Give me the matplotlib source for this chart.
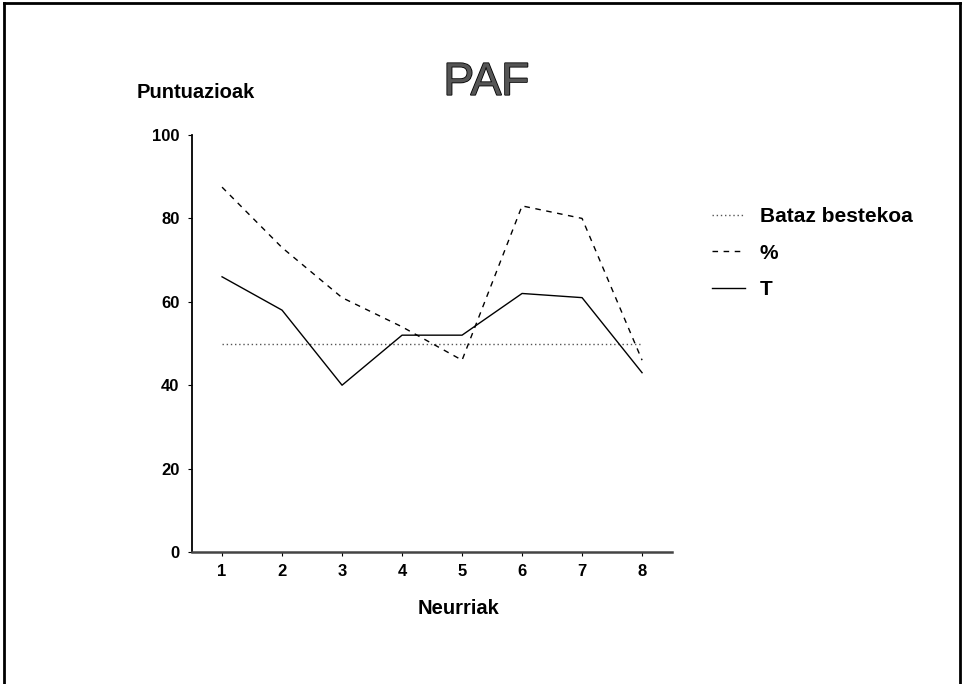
import matplotlib.pyplot as plt
import matplotlib.patheffects as pe
from matplotlib.lines import Line2D

plt.rcParams['font.family'] = ['Liberation Sans', 'DejaVu Sans']

# data
neurriak = [1, 2, 3, 4, 5, 6, 7, 8]
batazbeste = [50, 50, 50, 50, 50, 50, 50, 50]
ehunekoa = [87.5, 73, 61, 54, 46, 83, 80, 46]
t_puntu = [66, 58, 40, 52, 52, 62, 61, 43]
yticks = [0, 20, 40, 60, 80, 100]

fig = plt.figure(figsize=(9.67, 6.84), dpi=100)
ax = fig.add_axes([0.1986, 0.193, 0.4964, 0.6096])

ax.plot(neurriak, batazbeste, color='#555555', lw=1.0, linestyle=(0, (1, 2)), label='Bataz bestekoa')
ax.plot(neurriak, ehunekoa, color='black', lw=1.0, linestyle=(0, (4, 4)), label='%')
ax.plot(neurriak, t_puntu, color='black', lw=1.0, label='T')

ax.set_xlim(0.5, 8.5)
ax.set_ylim(0, 100)
ax.set_xticks(neurriak)
ax.set_yticks(yticks)
for s in ['top', 'right']:
    ax.spines[s].set_visible(False)
ax.spines['left'].set_linewidth(1.3)
ax.spines['bottom'].set_linewidth(1.8)
ax.spines['bottom'].set_color('#444444')
ax.tick_params(axis='both', length=3, width=0.8, labelsize=12, pad=6)
for lbl in ax.get_xticklabels() + ax.get_yticklabels():
    lbl.set_fontweight('bold')

fig.text(0.503, 0.879, 'PAF', ha='center', va='center', fontsize=33, color='#555555',
         path_effects=[pe.withStroke(linewidth=1.2, foreground='black')])
fig.text(0.141, 0.865, 'Puntuazioak', ha='left', va='center', fontsize=14.5, fontweight='bold')
fig.text(0.474, 0.111, 'Neurriak', ha='center', va='center', fontsize=14.5, fontweight='bold')

handles, labels = ax.get_legend_handles_labels()
leg = fig.legend(handles, labels, loc='upper left', bbox_to_anchor=(0.736, 0.697),
                 frameon=False, fontsize=15, handlelength=1.6, handletextpad=0.7,
                 labelspacing=0.84, borderaxespad=0, borderpad=0)
for txt in leg.get_texts():
    txt.set_fontweight('bold')

# frame around the page (no bottom edge)
x0, x1 = 4 / 967, 960 / 967
y_top = 1 - 3 / 684
fig.add_artist(Line2D([x0, x0], [0, y_top], transform=fig.transFigure, color='black', lw=2))
fig.add_artist(Line2D([x0, x1], [y_top, y_top], transform=fig.transFigure, color='black', lw=2))
fig.add_artist(Line2D([x1, x1], [0, y_top], transform=fig.transFigure, color='black', lw=2))

fig.savefig('out.png', dpi=100)
